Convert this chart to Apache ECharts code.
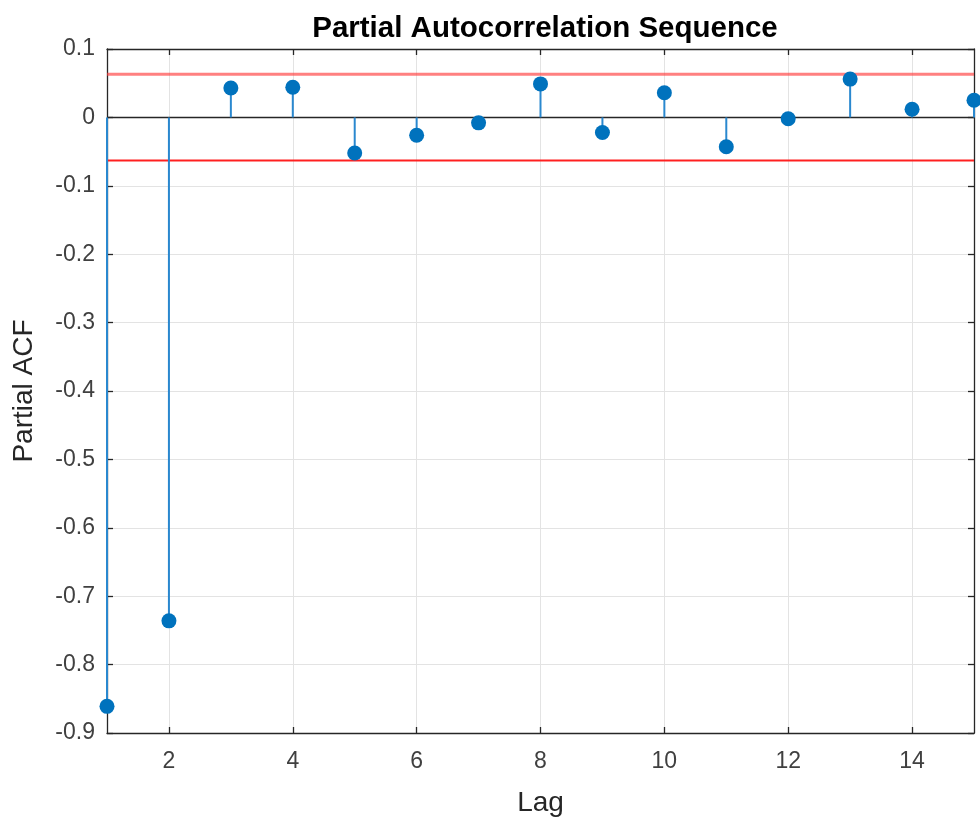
<!DOCTYPE html>
<html>
<head>
    <meta charset="utf-8">
    <title>Partial ACF</title>
    <script src="https://cdn.jsdelivr.net/npm/echarts@6/dist/echarts.min.js"></script>
    <style>
        body { margin: 0; background: #fff; }
        #chart { width: 980px; height: 819px; }
    </style>
</head>
<body>
    <div id="chart"></div>
    <script>
        var lags = [1, 2, 3, 4, 5, 6, 7, 8, 9, 10, 11, 12, 13, 14, 15];
        var pacf = [-0.861, -0.736, 0.043, 0.044, -0.052, -0.026, -0.008, 0.049, -0.022, 0.036, -0.043, -0.002, 0.056, 0.012, 0.025];
        var bound = 0.063;
        var xTicks = [2, 4, 6, 8, 10, 12, 14];

        var pts = lags.map(function(l, i) { return [l, pacf[i]]; });
        var font = 'Liberation Sans, Arial, sans-serif';

        function axisX(pos, show) {
            return {
                type: 'value', position: pos, min: 1, max: 15,
                axisLine: { show: true, onZero: false, lineStyle: { color: '#262626', width: 1.3 } },
                axisTick: { show: true, inside: true, length: 6, customValues: xTicks, lineStyle: { color: '#262626', width: 1.3 } },
                axisLabel: { show: show, customValues: xTicks, color: '#404040', fontSize: 23, fontFamily: font, margin: 17 },
                splitLine: { show: show, lineStyle: { color: '#e3e3e3', width: 1 } },
                name: show ? 'Lag' : '', nameLocation: 'middle', nameGap: 56,
                nameTextStyle: { color: '#262626', fontSize: 28, fontFamily: font }
            };
        }
        function axisY(pos, show) {
            return {
                type: 'value', position: pos, min: -0.9, max: 0.1, interval: 0.1,
                axisLine: { show: true, onZero: false, lineStyle: { color: '#262626', width: 1.3 } },
                axisTick: { show: true, inside: true, length: 6, lineStyle: { color: '#262626', width: 1.3 } },
                axisLabel: { show: show, color: '#404040', fontSize: 23, fontFamily: font, margin: 12,
                    formatter: function(v) { var r = Math.round(v * 10) / 10; return r === 0 ? '0' : String(r); } },
                splitLine: { show: show, lineStyle: { color: '#e3e3e3', width: 1 } },
                name: show ? 'Partial ACF' : '', nameLocation: 'middle', nameGap: 69,
                nameTextStyle: { color: '#262626', fontSize: 28, fontFamily: font }
            };
        }

        var chart = echarts.init(document.getElementById('chart'));
        chart.setOption({
            animation: false,
            title: {
                text: 'Partial Autocorrelation Sequence', left: 540, top: 9, textAlign: 'center',
                textStyle: { color: '#000', fontSize: 29.5, fontWeight: 'bold', fontFamily: font }
            },
            grid: { left: 107, right: 6, top: 49, bottom: 86, outerBoundsMode: 'none' },
            xAxis: [axisX('bottom', true), axisX('top', false)],
            yAxis: [axisY('left', true), axisY('right', false)],
            series: [
                {
                    type: 'line', data: [[1, bound], [15, bound]], symbol: 'none',
                    lineStyle: { color: 'rgba(255,60,60,0.65)', width: 3 }, z: 3
                },
                {
                    type: 'line', data: [[1, -bound], [15, -bound]], symbol: 'none',
                    lineStyle: { color: '#ff2020', width: 2 }, z: 3
                },
                {
                    type: 'line', data: [[1, 0], [15, 0]], symbol: 'none',
                    lineStyle: { color: '#262626', width: 1.5 }, z: 3
                },
                {
                    type: 'custom', data: pts, z: 4,
                    renderItem: function(params, api) {
                        var a = api.coord([api.value(0), 0]);
                        var b = api.coord([api.value(0), api.value(1)]);
                        return {
                            type: 'line',
                            shape: { x1: a[0], y1: a[1], x2: b[0], y2: b[1] },
                            style: { stroke: '#2a88cf', lineWidth: 2 }
                        };
                    }
                },
                {
                    type: 'scatter', data: pts, symbolSize: 15, clip: false,
                    itemStyle: { color: '#0072BD', opacity: 1 }, z: 5
                }
            ]
        });
    </script>
</body>
</html>
